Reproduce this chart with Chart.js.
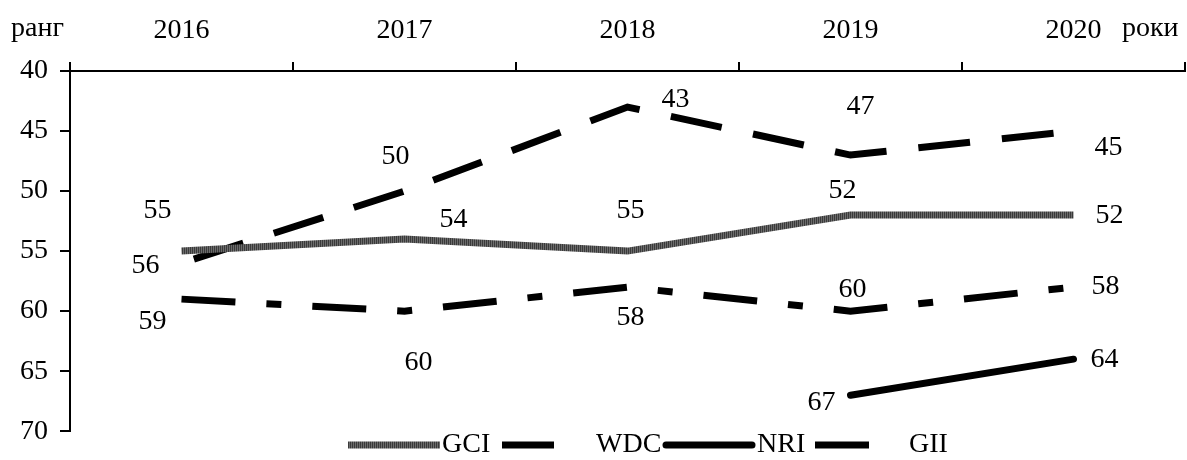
<!DOCTYPE html>
<html>
<head>
<meta charset="utf-8">
<script src="https://cdn.jsdelivr.net/npm/chart.js@4"></script>
<style>
  body { margin: 0; background: #fff; }
  #wrap { width: 1187px; height: 460px; position: relative; }
</style>
</head>
<body>
<div id="wrap"><canvas id="myChart"></canvas></div>
<script>
const years = ['2016', '2017', '2018', '2019', '2020'];
const gci = [55, 54, 55, 52, 52];
const wdc = [56, 50, 43, 47, 45];
const nri = [null, null, null, 67, 64];
const gii = [59, 60, 58, 60, 58];
const yTicks = [40, 45, 50, 55, 60, 65, 70];

const FONT = 'Liberation Serif, Times New Roman, serif';
const FSIZE = 28;

// label offsets from the point, in px
const labelPos = {
    GCI: [[-24, -40], [49, -19], [3, -40], [-8, -24], [36, 1]],
    WDC: [[-36, 3], [-9, -34], [48, -7], [10, -48], [35, 17]],
    NRI: [null, null, null, [-29, 7], [31, 0]],
    GII: [[-29, 23], [14, 52], [3, 31], [2, -21], [32, 0]]
};

// striped grey for GCI
const pc = document.createElement('canvas');
pc.width = 2; pc.height = 1;
const pctx = pc.getContext('2d');
pctx.fillStyle = '#3a3a3a'; pctx.fillRect(0, 0, 1, 1);
pctx.fillStyle = '#6c6c6c'; pctx.fillRect(1, 0, 1, 1);
const gciPattern = pctx.createPattern(pc, 'repeat');

const ctx = document.getElementById('myChart');

const labelPlugin = {
    id: 'pointLabels',
    afterDatasetsDraw(chart) {
        const c = chart.ctx;
        c.save();
        c.font = FSIZE + 'px ' + FONT;
        c.fillStyle = '#000';
        c.textAlign = 'center';
        c.textBaseline = 'middle';
        chart.data.datasets.forEach((ds, i) => {
            const meta = chart.getDatasetMeta(i);
            meta.data.forEach((pt, j) => {
                const v = ds.data[j];
                const off = labelPos[ds.label][j];
                if (v === null || !off) return;
                c.fillText(String(v), pt.x + off[0], pt.y + off[1]);
            });
        });
        c.restore();
    }
};

const extrasPlugin = {
    id: 'extras',
    afterDraw(chart) {
        const c = chart.ctx;
        c.save();
        c.font = FSIZE + 'px ' + FONT;
        c.fillStyle = '#000';
        c.textBaseline = 'middle';
        c.textAlign = 'left';
        c.fillText('ранг', 11, 29);
        c.fillText('роки', 1122, 29);

        // legend
        const starts = [348, 502, 663, 815];
        const y = 445;
        chart.data.datasets.forEach((ds, i) => {
            const x = starts[i];
            const round = ds.borderCapStyle === 'round';
            const len = ds.borderDash ? ds.borderDash[0] : 92;
            c.save();
            c.strokeStyle = ds.borderColor;
            c.lineWidth = ds.borderWidth;
            c.lineCap = round ? 'round' : 'butt';
            c.beginPath();
            c.moveTo(x + (round ? 3 : 0), y);
            c.lineTo(x + len - (round ? 3 : 0), y);
            c.stroke();
            c.restore();
            c.fillText(ds.label, x + 94, y);
        });
        c.restore();
    }
};

new Chart(ctx, {
    type: 'line',
    data: {
        labels: years,
        datasets: [
            {
                label: 'GCI',
                data: gci,
                borderColor: gciPattern,
                borderWidth: 7,
                pointRadius: 0,
                tension: 0
            },
            {
                label: 'WDC',
                data: wdc,
                borderColor: '#000',
                borderWidth: 7,
                borderDash: [52, 32],
                borderDashOffset: -13,
                pointRadius: 0,
                tension: 0
            },
            {
                label: 'NRI',
                data: nri,
                borderColor: '#000',
                borderWidth: 7,
                borderCapStyle: 'round',
                pointRadius: 0,
                tension: 0
            },
            {
                label: 'GII',
                data: gii,
                borderColor: '#000',
                borderWidth: 7,
                borderDash: [54, 31, 15, 31],
                pointRadius: 0,
                tension: 0
            }
        ]
    },
    options: {
        responsive: true,
        maintainAspectRatio: false,
        animation: false,
        layout: { padding: { top: 0, left: 0, right: 2, bottom: 26 } },
        plugins: {
            legend: { display: false },
            tooltip: { enabled: false }
        },
        scales: {
            x: {
                position: 'top',
                offset: true,
                afterFit(s) { s.height = 71; },
                grid: {
                    offset: true,
                    drawOnChartArea: false,
                    drawTicks: true,
                    tickLength: 9,
                    color: '#000',
                    lineWidth: 2
                },
                border: { color: '#000', width: 2 },
                ticks: {
                    color: '#000',
                    font: { family: FONT, size: FSIZE },
                    maxRotation: 0,
                    padding: 15
                }
            },
            y: {
                reverse: true,
                min: 40,
                max: 70,
                afterFit(s) { s.width = 70; },
                afterBuildTicks(s) { s.ticks = yTicks.map(v => ({ value: v })); },
                grid: {
                    drawOnChartArea: false,
                    drawTicks: true,
                    tickLength: 10,
                    color: '#000',
                    lineWidth: 2
                },
                border: { color: '#000', width: 2 },
                ticks: {
                    color: '#000',
                    font: { family: FONT, size: FSIZE },
                    padding: 12
                }
            }
        }
    },
    plugins: [labelPlugin, extrasPlugin]
});
</script>
</body>
</html>
